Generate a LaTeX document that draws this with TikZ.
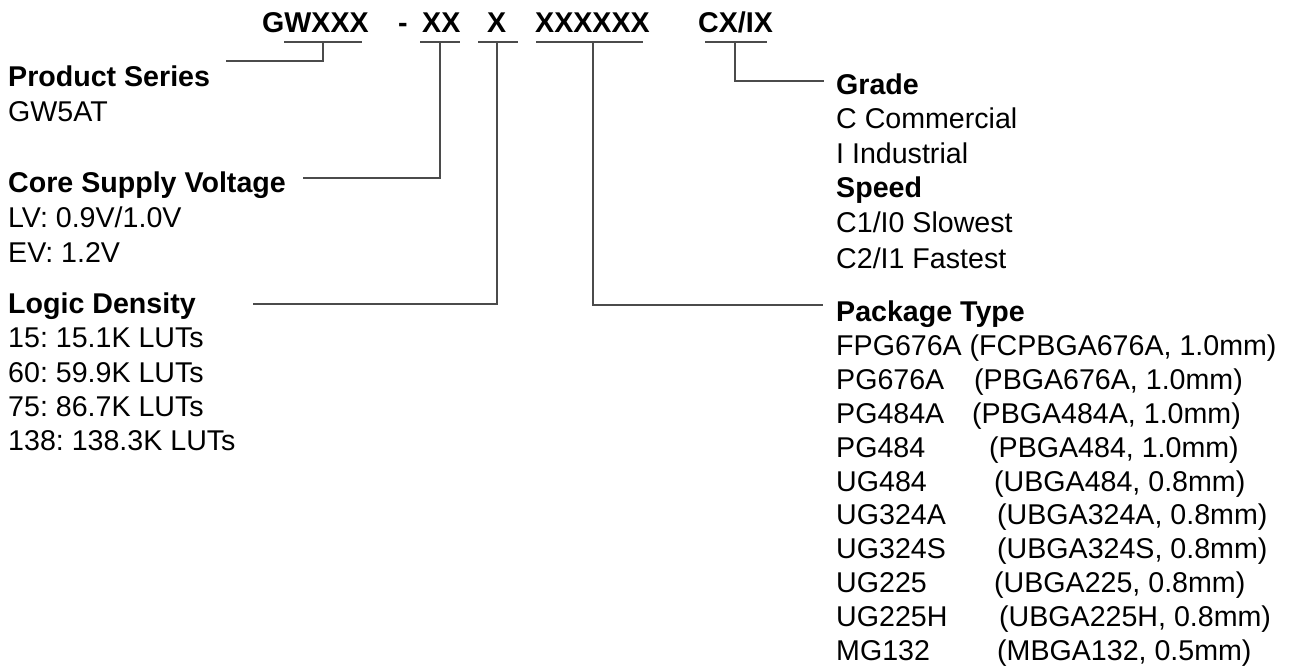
\documentclass[tikz,border=0pt]{standalone}
\usepackage{fontspec}
\setmainfont{Liberation Sans}
\frenchspacing
\definecolor{linegray}{RGB}{75,75,75}
\tikzset{
    lbl/.style={anchor=base west, inner sep=0pt, font=\fontsize{28.6}{34}\selectfont},
    hd/.style={lbl, font=\fontsize{28.6}{34}\selectfont\bfseries},
    link/.style={draw=linegray, line width=1.8pt}
}
\begin{document}
\begin{tikzpicture}[x=1pt, y=-1pt]
        \useasboundingbox (0,0) rectangle (1289,668);

        % part number
        \node[hd] (gw) at (262,33) {GWXXX};
        \node[hd] (dash) at (398,33) {-};
        \node[hd] (volt) at (422,33) {XX};
        \node[hd] (dens) at (487,33) {X};
        \node[hd] (pkg) at (535,33) {XXXXXX};
        \node[hd] (grd) at (698,33) {CX/IX};

        % left column
        \node[hd] (series) at (8,87) {Product Series};
        \node[lbl] (series1) at (8,122) {GW5AT};

        \node[hd] (core) at (8,193) {Core Supply Voltage};
        \node[lbl] (core1) at (8,228) {LV: 0.9V/1.0V};
        \node[lbl] (core2) at (8,262) {EV: 1.2V};

        \node[hd] (logic) at (8,313) {Logic Density};
        \node[lbl] (logic1) at (8,347) {15: 15.1K LUTs};
        \node[lbl] (logic2) at (8,382) {60: 59.9K LUTs};
        \node[lbl] (logic3) at (8,416) {75: 86.7K LUTs};
        \node[lbl] (logic4) at (8,450) {138: 138.3K LUTs};

        % right column
        \node[hd] (grade) at (836,95) {Grade};
        \node[lbl] (grade1) at (836,129) {C Commercial};
        \node[lbl] (grade2) at (836,164) {I Industrial};
        \node[hd] (speed) at (836,198) {Speed};
        \node[lbl] (speed1) at (836,233) {C1/I0 Slowest};
        \node[lbl] (speed2) at (836,268) {C2/I1 Fastest};

        \node[hd] (ptype) at (836,321) {Package Type};
        \node[lbl] (pt1) at (836,355) {FPG676A (FCPBGA676A, 1.0mm)};
        \node[lbl] (pt2) at (836,389) {\makebox[138pt][l]{PG676A}(PBGA676A, 1.0mm)};
        \node[lbl] (pt3) at (836,423) {\makebox[136pt][l]{PG484A}(PBGA484A, 1.0mm)};
        \node[lbl] (pt4) at (836,457) {\makebox[153pt][l]{PG484}(PBGA484, 1.0mm)};
        \node[lbl] (pt5) at (836,491) {\makebox[158pt][l]{UG484}(UBGA484, 0.8mm)};
        \node[lbl] (pt6) at (836,524) {\makebox[161pt][l]{UG324A}(UBGA324A, 0.8mm)};
        \node[lbl] (pt7) at (836,558) {\makebox[161pt][l]{UG324S}(UBGA324S, 0.8mm)};
        \node[lbl] (pt8) at (836,592) {\makebox[158pt][l]{UG225}(UBGA225, 0.8mm)};
        \node[lbl] (pt9) at (836,626) {\makebox[163pt][l]{UG225H}(UBGA225H, 0.8mm)};
        \node[lbl] (pt10) at (836,660) {\makebox[161pt][l]{MG132}(MBGA132, 0.5mm)};

        % underlines and stems
        \coordinate (gwS) at (323,42);
        \coordinate (voltS) at (440,42);
        \coordinate (densS) at (497,42);
        \coordinate (pkgS) at (593,42);
        \coordinate (grdS) at (735,42);

        \draw[link] (284,42) -- (362,42);
        \draw[link] (420,42) -- (460,42);
        \draw[link] (478,42) -- (518,42);
        \draw[link] (536,42) -- (643,42);
        \draw[link] (705,42) -- (767,42);

        % line ends beside the headings
        \coordinate (seriesE) at (226,61);
        \coordinate (coreE) at (303,178);
        \coordinate (logicE) at (253,304);
        \coordinate (gradeE) at (824,81);
        \coordinate (ptypeE) at (823,305);

        \draw[link] (gwS) |- (seriesE);
        \draw[link] (voltS) |- (coreE);
        \draw[link] (densS) |- (logicE);
        \draw[link] (pkgS) |- (ptypeE);
        \draw[link] (grdS) |- (gradeE);
\end{tikzpicture}
\end{document}
